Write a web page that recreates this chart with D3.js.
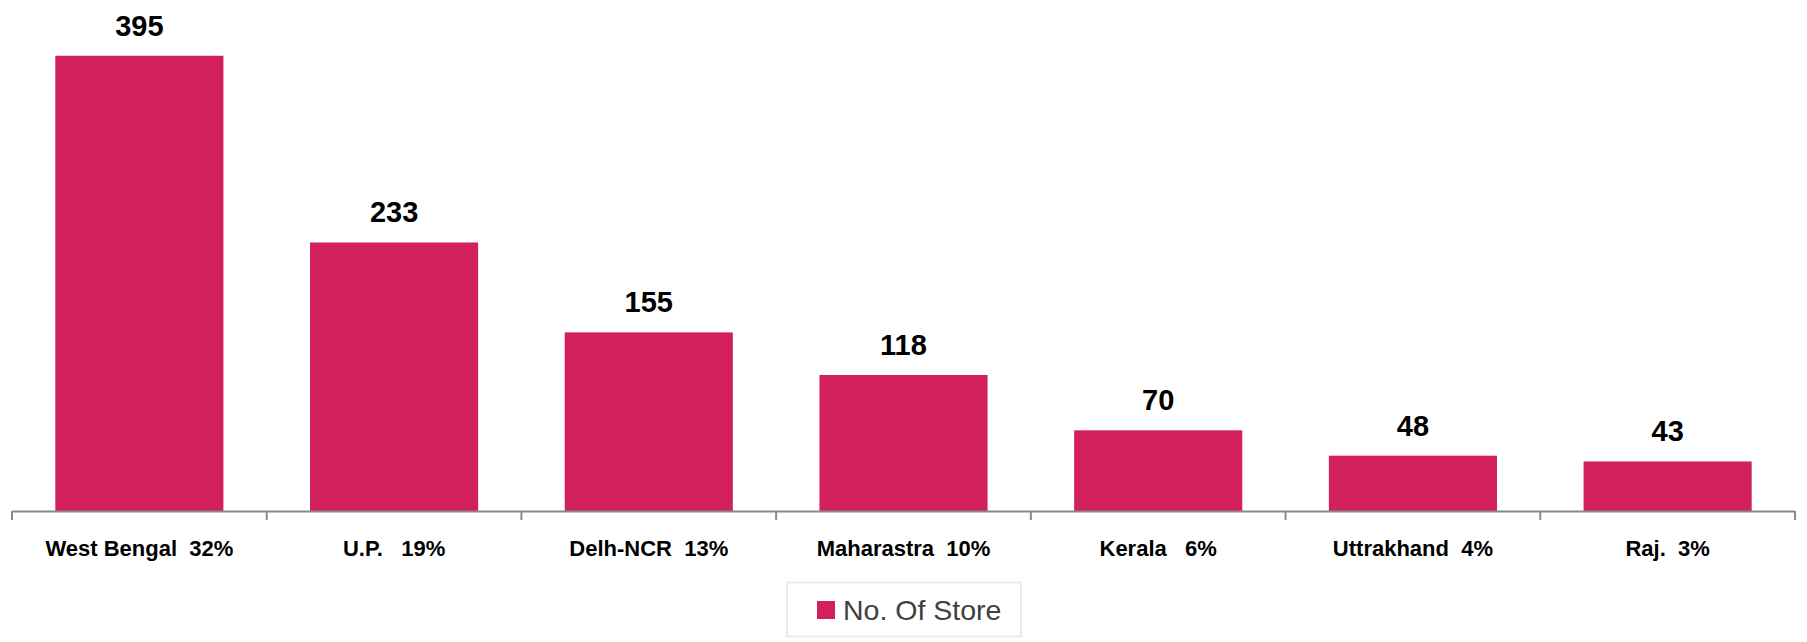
<!DOCTYPE html>
<html><head><meta charset="utf-8">
<script src="https://cdn.jsdelivr.net/npm/d3@7"></script>
<style>body{margin:0;background:#fff}svg{display:block}</style>
</head><body><svg id="c" width="1807" height="642"></svg>
<script>
const categories = ["West Bengal  32%","U.P.   19%","Delh-NCR  13%","Maharastra  10%","Kerala   6%","Uttrakhand  4%","Raj.  3%"];
const stores = [395,233,155,118,70,48,43];
const seriesName = "No. Of Store";

const svg = d3.select("#c");
const x = d3.scaleBand().domain(categories).range([12,1795]).paddingInner(0.34).paddingOuter(0.17);
const y = d3.scaleLinear().domain([0,400]).range([511,50]);
const color = "#d1205c";
const font = "'Liberation Sans', Arial, sans-serif";

svg.selectAll("rect.bar").data(stores).join("rect").attr("class","bar")
  .attr("x",(d,i)=>x(categories[i])).attr("width",x.bandwidth())
  .attr("y",d=>y(d)).attr("height",d=>y(0)-y(d)).attr("fill",color);

svg.selectAll("text.val").data(stores).join("text").attr("class","val")
  .attr("x",(d,i)=>x(categories[i])+x.bandwidth()/2).attr("y",d=>y(d)-20)
  .attr("text-anchor","middle").attr("font-family",font).attr("font-weight","bold")
  .attr("font-size",29).attr("fill","#000").text(d=>d);

// axis
const bounds = d3.range(categories.length+1).map(i=>12 + i*(1795-12)/categories.length);
const axisG = svg.append("g");
axisG.append("line").attr("x1",12).attr("x2",1795).attr("y1",511.5).attr("y2",511.5).attr("stroke","#898989").attr("stroke-width",2);
axisG.selectAll("line.tk").data(bounds).join("line").attr("class","tk")
  .attr("x1",d=>d).attr("x2",d=>d).attr("y1",511).attr("y2",520).attr("stroke","#898989").attr("stroke-width",2);
axisG.selectAll("text.cat").data(categories).join("text").attr("class","cat")
  .attr("x",d=>x(d)+x.bandwidth()/2).attr("y",556)
  .attr("text-anchor","middle").attr("font-family",font).attr("font-weight","bold")
  .attr("font-size",22).attr("fill","#000").attr("xml:space","preserve").style("white-space","pre").text(d=>d);

// legend
const lg = svg.append("g");
lg.append("rect").attr("x",787).attr("y",582.5).attr("width",234).attr("height",54).attr("fill","#fff").attr("stroke","#ebebeb").attr("stroke-width",2);
lg.append("rect").attr("x",817).attr("y",601).attr("width",18).attr("height",18).attr("fill",color);
lg.append("text").attr("x",843).attr("y",620).attr("font-family",font).attr("font-size",28.5).attr("fill","#404040").text(seriesName);
</script></body></html>
